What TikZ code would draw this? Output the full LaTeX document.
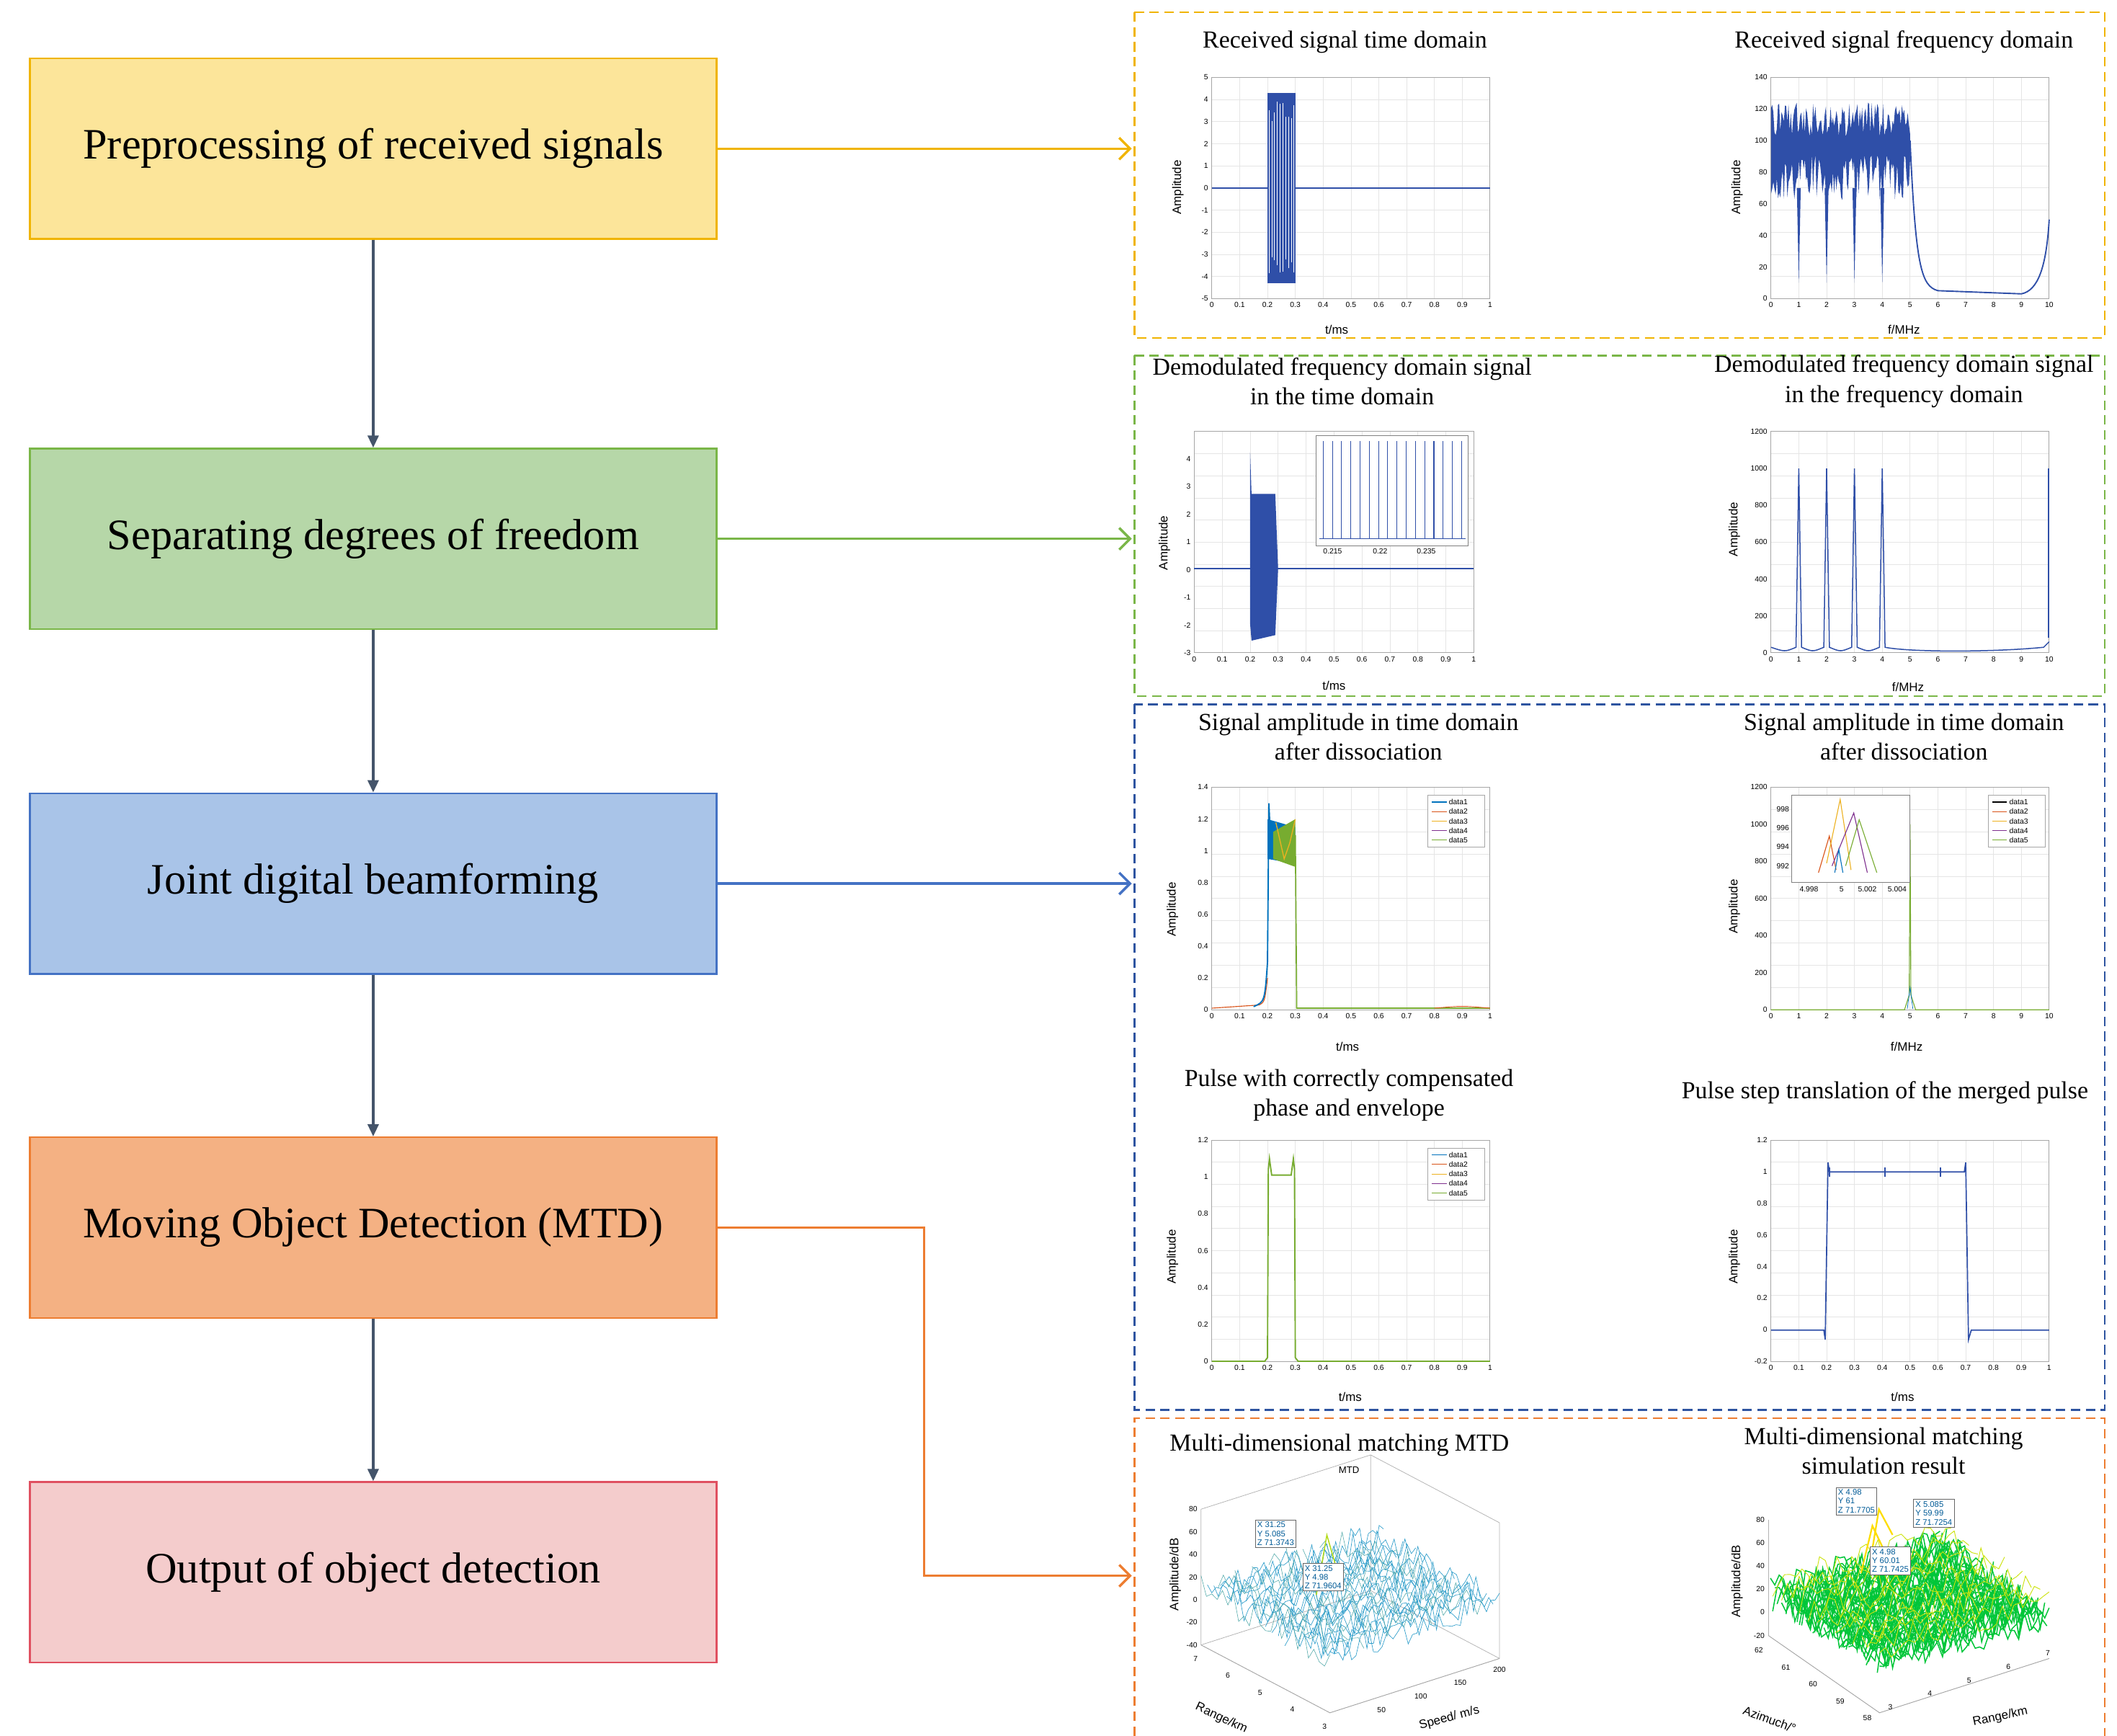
\documentclass[tikz,border=0pt]{standalone}
\usepackage{fontspec}
\setmainfont{Liberation Serif}
\newfontfamily\sansf{Liberation Sans}
\usetikzlibrary{arrows.meta}
\definecolor{mA}{HTML}{0072BD}\definecolor{mB}{HTML}{D95319}\definecolor{mC}{HTML}{EDB120}
\definecolor{mD}{HTML}{7E2F8E}\definecolor{mE}{HTML}{77AC30}\definecolor{pb}{HTML}{2F4FA8}
\newcommand\pax[4]{%
 \foreach \i in {1,...,9}{\draw[gray!20,line width=0.4pt] ({#1+(#3-#1)*\i/10},#2)--({#1+(#3-#1)*\i/10},#4);
  \draw[gray!20,line width=0.4pt] (#1,{#2+(#4-#2)*\i/10})--(#3,{#2+(#4-#2)*\i/10});}
 \draw[gray!70,line width=0.5pt] (#1,#2) rectangle (#3,#4);}
\newcommand\xtk[5]{\foreach \v [count=\i from 0] in {#5}{\node[tk,anchor=north] at ({#1+(#2-#1)*\i/(#4-1)},#3) {\v};}}
\newcommand\ytk[5]{\foreach \v [count=\i from 0] in {#5}{\node[tk,anchor=east] at (#3,{#1+(#2-#1)*\i/(#4-1)}) {\v};}}
\begin{document}
\begin{tikzpicture}[x=1pt,y=-1pt,
 box/.style={draw,line width=1.3pt,minimum width=506pt,minimum height=133pt,inner sep=0pt,font=\fontsize{32}{37}\selectfont},
 va/.style={draw={rgb,255:red,68;green,84;blue,106},line width=1.8pt,-{Triangle[length=9pt,width=8pt]}},
 ha/.style={line width=1.8pt,-{Straight Barb[length=8pt,width=16pt,line width=1.8pt]}},
 fr/.style={line width=1.4pt,dash pattern=on 7pt off 4pt},
 ttl/.style={font=\fontsize{18}{22}\selectfont,align=center},
 tk/.style={font=\sansf\fontsize{5.5}{6}\selectfont,inner sep=1.5pt},
 al/.style={font=\sansf\fontsize{9}{10}\selectfont},
 dtip/.style={draw=black!60,fill=white,font=\sansf\fontsize{6}{6.5}\selectfont,align=left,inner sep=1.5pt,text=mA!80!black}]
\useasboundingbox (0,0) rectangle (1560,1279);
\pgfmathsetseed{7}
\node[box,draw={rgb,255:red,240;green,180;blue,0},fill={rgb,255:red,252;green,229;blue,154}] (b1) at (275,109.5) {Preprocessing of received signals};
\node[box,draw={rgb,255:red,122;green,182;blue,72},fill={rgb,255:red,182;green,215;blue,168}] (b2) at (275,397) {Separating degrees of freedom};
\node[box,draw={rgb,255:red,68;green,114;blue,196},fill={rgb,255:red,169;green,196;blue,232}] (b3) at (275,651) {Joint digital beamforming};
\node[box,draw={rgb,255:red,237;green,125;blue,49},fill={rgb,255:red,244;green,177;blue,131}] (b4) at (275,904.5) {Moving Object Detection (MTD)};
\node[box,draw={rgb,255:red,224;green,80;blue,96},fill={rgb,255:red,244;green,204;blue,204}] (b5) at (275,1158.5) {Output of object detection};
\draw[va] (b1)--(b2); \draw[va] (b2)--(b3); \draw[va] (b3)--(b4); \draw[va] (b4)--(b5);
\draw[fr,draw={rgb,255:red,240;green,180;blue,0}] (836,9) rectangle (1551,249);
\draw[fr,draw={rgb,255:red,122;green,182;blue,72}] (836,262) rectangle (1551,513);
\draw[fr,draw={rgb,255:red,46;green,84;blue,160}] (836,519) rectangle (1551,1039);
\draw[fr,draw={rgb,255:red,237;green,125;blue,49}] (836,1279)--(836,1045)--(1551,1045)--(1551,1279);
\coordinate (t1) at (834,109.5);\coordinate (t2) at (834,397);\coordinate (t3) at (834,651);\coordinate (t4) at (834,1161);
\draw[ha,draw={rgb,255:red,240;green,180;blue,0}] (b1.east)--(t1);
\draw[ha,draw={rgb,255:red,122;green,182;blue,72}] (b2.east)--(t2);
\draw[ha,draw={rgb,255:red,68;green,114;blue,196}] (b3.east)--(t3);
\draw[ha,draw={rgb,255:red,237;green,125;blue,49}] (b4.east)--(681,904.5)--(681,1161)--(t4);
\node[ttl] (T1) at (991,31) {Received signal time domain};
\node[ttl] (T2) at (1403,31) {Received signal frequency domain};
\node[ttl] (T3) at (989,281) {Demodulated frequency domain signal\\in the time domain};
\node[ttl] (T4) at (1403,281) {Demodulated frequency domain signal\\in the frequency domain};
\node[ttl] (T5) at (1001,543) {Signal amplitude in time domain\\after dissociation};
\node[ttl] (T6) at (1403,543) {Signal amplitude in time domain\\after dissociation};
\node[ttl] (T7) at (994,807) {Pulse with correctly compensated\\phase and envelope};
\node[ttl] (T8) at (1389,805) {Pulse step translation of the merged pulse};
\node[ttl] (T9) at (987,1065) {Multi-dimensional matching MTD};
\node[ttl] (T10) at (1388,1069) {Multi-dimensional matching\\simulation result};
% ---------- plot 1
\pax{893}{57}{1098}{220}
\xtk{893}{1098}{221}{11}{0,0.1,0.2,0.3,0.4,0.5,0.6,0.7,0.8,0.9,1}
\ytk{57}{220}{892}{11}{5,4,3,2,1,0,-1,-2,-3,-4,-5}
\node[al,rotate=90] (a1) at (868,138) {Amplitude}; \node[al] (x1) at (985,243) {t/ms};
\begin{scope}[shift={(893,138.5)},x=205pt,y=16.3pt]
 \draw[pb,line width=0.8pt] (0,0)--(1,0);
 \fill[pb] (0.2,-4.3) rectangle (0.3,4.3);
 \foreach \t in {0.205,0.215,...,0.3}{\draw[white,line width=0.3pt] (\t,{-4+rnd}) -- (\t,{4-rnd});}
\end{scope}
% ---------- plot 2
\pax{1305}{57}{1510}{220}
\xtk{1305}{1510}{221}{11}{0,1,2,3,4,5,6,7,8,9,10}
\ytk{57}{220}{1304}{8}{140,120,100,80,60,40,20,0}
\node[al,rotate=90] (a2) at (1280,138) {Amplitude}; \node[al] (x2) at (1403,243) {f/MHz};
\begin{scope}[shift={(1305,220)},x=20.5pt,y=1.164pt]
 \fill[pb] plot[domain=0:5,samples=120] (\x,{102+22*rnd}) -- plot[domain=5:0,samples=120] (\x,{62+30*rnd}) -- cycle;
 \foreach \k in {1,2,3,4}{\fill[pb] (\k-0.07,70)--(\k,10)--(\k+0.07,70)--cycle;}
 \draw[pb,line width=1pt] (5,100)..controls (5.2,20) and (5.4,8)..(6,5)--(9,3)..controls (9.6,5) and (9.9,20)..(10,50);
\end{scope}
% ---------- plot 3
\pax{880}{318}{1086}{481}
\xtk{880}{1086}{482}{11}{0,0.1,0.2,0.3,0.4,0.5,0.6,0.7,0.8,0.9,1}
\ytk{338}{481}{879}{8}{4,3,2,1,0,-1,-2,-3}
\node[al,rotate=90] (a3) at (858,400) {Amplitude}; \node[al] (x3) at (983,505) {t/ms};
\begin{scope}[shift={(880,419)},x=206pt,y=20.4pt]
 \draw[pb,line width=0.8pt] (0,0)--(1,0);
 \fill[pb] (0.2,4.2)--(0.205,2.7)--(0.29,2.7)--(0.3,0)--(0.29,-2.4)--(0.205,-2.6)--(0.2,-2)--cycle;
\end{scope}
\draw[fill=white,draw=gray] (970,321) rectangle (1082,402);
\foreach \i in {0,...,15}{\draw[pb,line width=0.6pt] ({975+\i*6.8},325)--({975+\i*6.8},397);}
\draw[pb,line width=0.6pt] (972,397)--(1080,397);
\node[tk] at (982,406) {0.215}; \node[tk] at (1017,406) {0.22}; \node[tk] at (1051,406) {0.235};
% ---------- plot 4
\pax{1305}{318}{1510}{481}
\xtk{1305}{1510}{482}{11}{0,1,2,3,4,5,6,7,8,9,10}
\ytk{318}{481}{1304}{7}{1200,1000,800,600,400,200,0}
\node[al,rotate=90] (a4) at (1278,390) {Amplitude}; \node[al] (x4) at (1406,506) {f/MHz};
\begin{scope}[shift={(1305,481)},x=20.5pt,y=0.1358pt]
 \draw[pb,line width=0.8pt] (0,30)..controls (0.5,5)..(0.9,30)--(1,1000)--(1.1,30)..controls(1.5,5)..(1.9,30)--(2,1000)--(2.1,30)..controls(2.5,5)..(2.9,30)--(3,1000)--(3.1,30)..controls(3.5,5)..(3.9,30)--(4,1000)--(4.1,30)..controls(5,3)and(8,3)..(9.8,30)--(10,60);
 \draw[pb,line width=1pt] (9.97,80)--(9.97,1000);
\end{scope}
% ---------- plot 5
\pax{893}{580}{1098}{744}
\xtk{893}{1098}{745}{11}{0,0.1,0.2,0.3,0.4,0.5,0.6,0.7,0.8,0.9,1}
\ytk{580}{744}{892}{8}{1.4,1.2,1,0.8,0.6,0.4,0.2,0}
\node[al,rotate=90] (a5) at (864,670) {Amplitude}; \node[al] (x5) at (993,771) {t/ms};
\begin{scope}[shift={(893,744)},x=205pt,y=117pt]
 \draw[mB,line width=0.6pt] (0,0.01)--(0.17,0.03)..controls(0.19,0.05)..(0.2,0.2);
 \draw[mA,line width=1pt] (0.15,0.02)..controls(0.19,0.05)..(0.2,0.3)--(0.205,1.3)--(0.21,1.1)--(0.23,1.05);
 \fill[mA] (0.2,1.2)--(0.3,1.15)--(0.3,0.92)--(0.2,0.95)--cycle;
 \fill[mE] (0.22,1.12)--(0.3,1.2)--(0.3,0.9)--(0.22,0.95)--cycle;
 \draw[mC,line width=0.7pt] (0.23,1.18)--(0.26,0.95)--(0.28,1.05)--(0.3,1.2);
 \draw[mE,line width=0.9pt] (0.3,1.1)--(0.305,0.01)--(1,0.01);
 \draw[mB,line width=0.5pt] (0.8,0.01)..controls(0.9,0.025)..(1,0.01);
\end{scope}
\draw[fill=white,draw=gray!70] (1052,586) rectangle (1094,624);
\foreach \c/\n [count=\i] in {mA/data1,mB/data2,mC/data3,mD/data4,mE/data5}{
 \draw[\c,line width=0.6pt] (1055,{584+\i*7})--(1066,{584+\i*7}); \node[tk,anchor=west,inner sep=0.5pt] at (1067,{584+\i*7}) {\n};}
% ---------- plot 6
\pax{1305}{580}{1510}{744}
\xtk{1305}{1510}{745}{11}{0,1,2,3,4,5,6,7,8,9,10}
\ytk{580}{744}{1304}{7}{1200,1000,800,600,400,200,0}
\node[al,rotate=90] (a6) at (1278,668) {Amplitude}; \node[al] (x6) at (1405,771) {f/MHz};
\begin{scope}[shift={(1305,744)},x=20.5pt,y=0.1367pt]
 \draw[mE,line width=0.6pt] (0,0)--(4.8,0)--(4.97,80)--(5,1000)--(5.03,80)--(5.2,0)--(10,0);
 \draw[mA,line width=0.4pt] (4.9,5)--(5,120)--(5.1,5);
\end{scope}
\draw[fill=white,draw=gray] (1320,586) rectangle (1407,650);
\begin{scope}[shift={(1320,586)}]
 \draw[mB,line width=0.6pt] (20,57)--(28,30)--(33,55);
 \draw[mC,line width=0.6pt] (26,50)--(36,3)--(44,55);
 \draw[mD,line width=0.6pt] (30,52)--(46,13)--(56,57);
 \draw[mE,line width=0.6pt] (40,52)--(50,18)--(63,57);
 \draw[mA,line width=0.6pt] (32,57)--(35,40)--(38,57);
\end{scope}
\node[tk] at (1333,655) {4.998}; \node[tk] at (1357,655) {5}; \node[tk] at (1376,655) {5.002}; \node[tk] at (1398,655) {5.004};
\foreach \v [count=\i from 0] in {998,996,994,992}{\node[tk,anchor=east] at (1320,{596+\i*14}) {\v};}
\draw[fill=white,draw=gray!70] (1465,586) rectangle (1507,624);
\foreach \c/\n [count=\i] in {black/data1,mB/data2,mC/data3,mD/data4,mE/data5}{
 \draw[\c,line width=0.6pt] (1468,{584+\i*7})--(1479,{584+\i*7}); \node[tk,anchor=west,inner sep=0.5pt] at (1480,{584+\i*7}) {\n};}
% ---------- plot 7
\pax{893}{840}{1098}{1003}
\xtk{893}{1098}{1004}{11}{0,0.1,0.2,0.3,0.4,0.5,0.6,0.7,0.8,0.9,1}
\ytk{840}{1003}{892}{7}{1.2,1,0.8,0.6,0.4,0.2,0}
\node[al,rotate=90] (a7) at (864,926) {Amplitude}; \node[al] (x7) at (995,1029) {t/ms};
\begin{scope}[shift={(893,1003)},x=205pt,y=135.8pt]
 \draw[mE,line width=1pt] (0,0)--(0.19,0)--(0.2,0.02)--(0.203,1.04)--(0.207,1.1)--(0.215,1.01)--(0.285,1.01)--(0.293,1.1)--(0.297,1.04)--(0.3,0.02)--(0.31,0)--(1,0);
\end{scope}
\draw[fill=white,draw=gray!70] (1052,846) rectangle (1094,884);
\foreach \c/\n [count=\i] in {mA/data1,mB/data2,mC/data3,mD/data4,mE/data5}{
 \draw[\c,line width=0.6pt] (1055,{844+\i*7})--(1066,{844+\i*7}); \node[tk,anchor=west,inner sep=0.5pt] at (1067,{844+\i*7}) {\n};}
% ---------- plot 8
\pax{1305}{840}{1510}{1003}
\xtk{1305}{1510}{1004}{11}{0,0.1,0.2,0.3,0.4,0.5,0.6,0.7,0.8,0.9,1}
\ytk{840}{1003}{1304}{8}{1.2,1,0.8,0.6,0.4,0.2,0,-0.2}
\node[al,rotate=90] (a8) at (1278,926) {Amplitude}; \node[al] (x8) at (1402,1029) {t/ms};
\begin{scope}[shift={(1305,980)},x=205pt,y=116.5pt]
 \draw[pb,line width=0.9pt] (0,0)--(0.19,0)--(0.195,-0.06)--(0.2,0.5)--(0.205,1.06)--(0.21,1)--(0.6,1)--(0.695,1)--(0.7,1.06)--(0.705,0.5)--(0.71,-0.06)--(0.72,0)--(1,0);
 \foreach \p in {0.2,0.4,0.6}{\draw[pb,line width=0.9pt] (\p+0.01,0.97)--(\p+0.01,1.03);}
\end{scope}
% ---------- plot 9 (3D)
\node[font=\sansf\fontsize{7}{8}\selectfont] (m9) at (994,1083) {MTD};
\draw[gray!60,line width=0.4pt] (885,1212)--(885,1112) (885,1112)--(1010,1072)--(1105,1122)--(1105,1222) (1010,1072)--(1010,1172)--(885,1212) (1010,1172)--(1105,1222);
\draw[gray!70,line width=0.5pt] (885,1212)--(980,1262)--(1105,1222);
\foreach \v [count=\i from 0] in {80,60,40,20,0,-20,-40}{\node[tk,anchor=east] at (884,{1112+\i*16.67}) {\v};}
\foreach \v [count=\i from 0] in {7,6,5,4,3}{\node[tk] at ({885+\i*23.75-4},{1222+\i*12.5}) {\v};}
\foreach \v [count=\i from 0] in {50,100,150,200}{\node[tk] at ({1018+\i*29},{1260-\i*10}) {\v};}
\node[al] (a9) at (866,1160) [rotate=90] {Amplitude/dB};
\node[al,rotate=-25] (r9) at (900,1266) {Range/km};
\node[al,rotate=15] (s9) at (1068,1266) {Speed/ m/s};
\begin{scope}[shift={(980,1262)},x={(125pt,40pt)},y={(-95pt,50pt)},z={(0pt,0.833pt)}]
 \foreach \v in {0,0.05,...,1.0}{
  \draw[cyan!60!teal,line width=0.35pt] plot[domain=0:1,samples=40] (\x,\v,{52+14*rand});}
 \foreach \u in {0,0.1,...,1.0}{
  \draw[teal!70,line width=0.3pt] plot[domain=0:1,samples=25] (\u,\x,{52+14*rand});}
 \draw[yellow!70!green,line width=0.8pt] (0.3,0.5,60)--(0.4,0.55,105)--(0.5,0.6,65);
\end{scope}
\node[dtip] (d91) at (940,1130) {X 31.25\\Y 5.085\\Z 71.3743};
\node[dtip] (d92) at (975,1162) {X 31.25\\Y 4.98\\Z 71.9604};
% ---------- plot 10 (3D)
\draw[gray!60,line width=0.4pt] (1303,1120)--(1303,1205);
\foreach \v [count=\i from 0] in {80,60,40,20,0,-20}{\node[tk,anchor=east] at (1302,{1120+\i*17}) {\v};}
\draw[gray!70,line width=0.5pt] (1303,1205)--(1385,1262)--(1510,1222);
\foreach \v [count=\i from 0] in {62,61,60,59,58}{\node[tk] at ({1296+\i*20},{1216+\i*12.5}) {\v};}
\foreach \v [count=\i from 0] in {3,4,5,6,7}{\node[tk] at ({1393+\i*29},{1258-\i*10}) {\v};}
\node[al,rotate=90] (a10) at (1280,1165) {Amplitude/dB};
\node[al,rotate=-20] (r10) at (1304,1267) {Azimuch/°};
\node[al,rotate=12] (s10) at (1474,1265) {Range/km};
\begin{scope}[shift={(1385,1262)},x={(125pt,40pt)},y={(-82pt,57pt)},z={(0pt,0.7pt)}]
 \foreach \v in {0,0.02,...,1.0}{
  \draw[green!55!teal,line width=0.8pt] plot[domain=0:1,samples=40] (\x,\v,{45+18*rand+12*(1-\v)*(1-\x)});}
 \foreach \v in {0,0.08,...,1.0}{
  \draw[yellow!80!green,line width=0.5pt] plot[domain=0:1,samples=30] (\x,\v,{55+15*rand+10*(1-\v)});}
 \draw[yellow!80!orange,line width=1.2pt] (0.35,0.7,70)--(0.45,0.75,110)--(0.55,0.8,75);
 \draw[yellow!80!orange,line width=1.2pt] (0.55,0.9,70)--(0.6,0.92,105)--(0.7,0.95,70);
\end{scope}
\node[dtip] (d101) at (1368,1106) {X 4.98\\Y 61\\Z 71.7705};
\node[dtip] (d102) at (1425,1115) {X 5.085\\Y 59.99\\Z 71.7254};
\node[dtip] (d103) at (1393,1150) {X 4.98\\Y 60.01\\Z 71.7425};
\end{tikzpicture}
\end{document}
